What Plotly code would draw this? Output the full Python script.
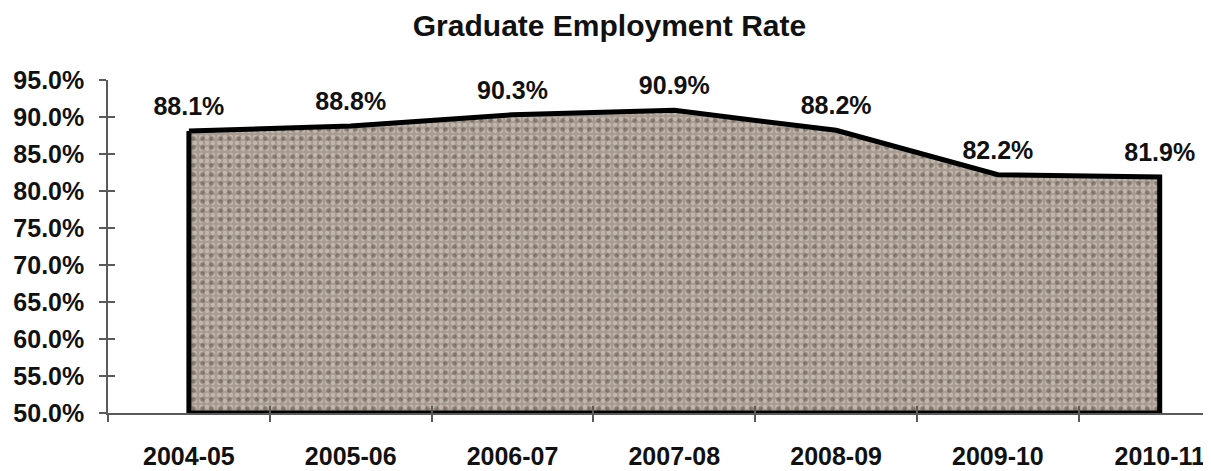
import plotly.graph_objects as go

YEARS = ["2004-05", "2005-06", "2006-07", "2007-08", "2008-09", "2009-10", "2010-11"]
RATE = [88.1, 88.8, 90.3, 90.9, 88.2, 82.2, 81.9]
Y_MIN, Y_MAX = 50, 95

FONT = dict(family="Arial, Liberation Sans, sans-serif", color="#111111", weight="bold")
AXIS_COL = "#5a5a5a"

# closed polygon: top edge along the data, back along the axis floor
poly_x = YEARS + YEARS[::-1] + YEARS[:1]
poly_y = RATE + [Y_MIN] * len(YEARS) + RATE[:1]

fig = go.Figure()

# granite-like fill: base colour + light specks, then dark specks on top
fig.add_trace(go.Scatter(
    x=poly_x, y=poly_y, fill="toself", mode="lines",
    line=dict(width=0), fillcolor="#a89b90",
    fillpattern=dict(shape=".", fgcolor="#dcd4cb", size=6, solidity=0.4, fillmode="overlay"),
    hoverinfo="skip", showlegend=False,
))
fig.add_trace(go.Scatter(
    x=poly_x, y=poly_y, fill="toself", mode="lines",
    line=dict(color="#000000", width=5), fillcolor="rgba(0,0,0,0)",
    fillpattern=dict(shape=".", fgcolor="#54493f", size=9, solidity=0.2, fillmode="overlay"),
    hoverinfo="skip", showlegend=False,
))

# value labels (on the overlay axes, which also draw the inner half of the ticks)
fig.add_trace(go.Scatter(
    x=YEARS, y=RATE, mode="markers+text",
    marker=dict(size=14, opacity=0),
    text=[f"{v:.1f}%" for v in RATE], textposition="top center",
    textfont=dict(size=25, **FONT), cliponaxis=False,
    xaxis="x2", yaxis="y2", hoverinfo="skip", showlegend=False,
))

xrange = [-0.5, 6.28]
common_x = dict(type="category", categoryorder="array", categoryarray=YEARS,
                range=xrange, tickson="boundaries", ticklen=7, tickwidth=1.5,
                tickcolor=AXIS_COL, showgrid=False, zeroline=False)
common_y = dict(range=[Y_MIN, Y_MAX], dtick=5, ticklen=7, tickwidth=1.5,
                tickcolor=AXIS_COL, showgrid=False, zeroline=False)

# page body has an 8px margin, so the figure is sized/placed to compensate
fig.update_layout(
    width=1203, height=463,
    paper_bgcolor="white", plot_bgcolor="white",
    margin=dict(l=100, r=6, t=72, b=58),
    title=dict(text="Graduate Employment Rate", x=0.5, xanchor="center",
               y=0.963, yanchor="middle", font=dict(size=30, **FONT)),
    xaxis=dict(**common_x, ticks="outside", showline=True, linecolor=AXIS_COL,
               linewidth=1.5, tickfont=dict(size=25, **FONT), ticklabelstandoff=20,
               automargin=False),
    yaxis=dict(**common_y, ticks="outside", showline=True, linecolor=AXIS_COL,
               linewidth=1.5, tickformat=".1f", ticksuffix="%",
               tickfont=dict(size=25, **FONT), ticklabelstandoff=10, automargin=False),
    xaxis2=dict(**common_x, overlaying="x", anchor="y2", ticks="inside",
                showticklabels=False, showline=False),
    yaxis2=dict(**common_y, overlaying="y", anchor="x2", ticks="inside",
                showticklabels=False, showline=False),
)

fig.write_html("out.html")
